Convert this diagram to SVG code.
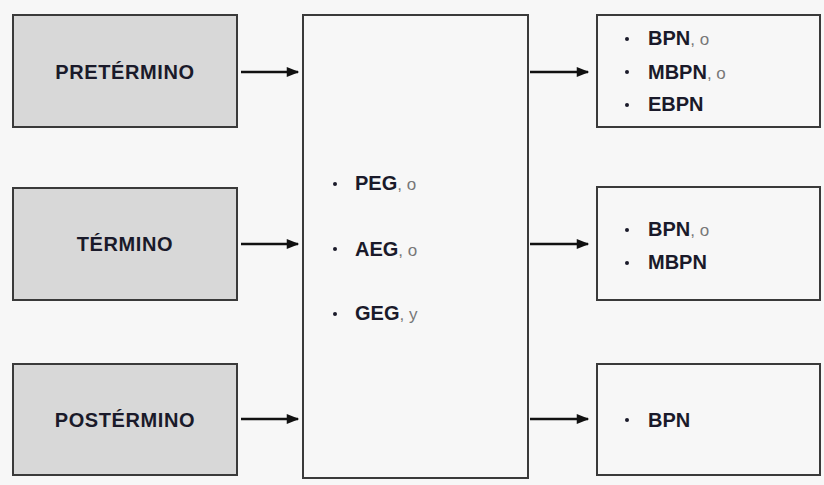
<svg xmlns="http://www.w3.org/2000/svg" width="824" height="485" viewBox="0 0 824 485">
<style>
.bg{fill:#f7f7f7}
.lbox{fill:#d8d8d8;stroke:#3a3a3a;stroke-width:2}
.box{fill:#f7f7f7;stroke:#3a3a3a;stroke-width:2}
.lt{font-family:"Liberation Sans",Arial,sans-serif;font-weight:bold;font-size:20px;fill:#1a1a2a;text-anchor:middle;letter-spacing:0.6px}
.t{font-family:"Liberation Sans",Arial,sans-serif;font-weight:bold;font-size:20px;fill:#1a1a2a}
.s{font-weight:normal;fill:#777;font-size:17px}
.b{fill:#1a1a2a}
.c{stroke:#111;stroke-width:2.5;fill:none;marker-end:url(#ah)}
</style>
<defs>
<marker id="ah" viewBox="0 0 10 10" refX="9" refY="5" markerWidth="5.5" markerHeight="5" orient="auto" markerUnits="strokeWidth">
<path d="M0,1 L10,5 L0,9 Z" fill="#111"/>
</marker>
</defs>
<rect class="bg" x="0" y="0" width="824" height="485"/>
<g id="pretermino"><rect class="lbox" x="13" y="15" width="224" height="112"/><text class="lt" x="125" y="79">PRETÉRMINO</text></g>
<g id="termino"><rect class="lbox" x="13" y="188" width="224" height="112"/><text class="lt" x="125" y="251">TÉRMINO</text></g>
<g id="postermino"><rect class="lbox" x="13" y="364" width="224" height="111"/><text class="lt" x="125" y="427">POSTÉRMINO</text></g>
<g id="center"><rect class="box" x="303" y="15" width="225" height="463"/>
<circle class="b" cx="335" cy="184" r="2"/><text class="t" x="355" y="190">PEG<tspan class="s">, o</tspan></text>
<circle class="b" cx="335" cy="249" r="2"/><text class="t" x="355" y="256">AEG<tspan class="s">, o</tspan></text>
<circle class="b" cx="335" cy="314" r="2"/><text class="t" x="355" y="320">GEG<tspan class="s">, y</tspan></text>
</g>
<g id="out1"><rect class="box" x="597" y="15" width="223" height="112"/>
<circle class="b" cx="627" cy="39" r="2"/><text class="t" x="648" y="45">BPN<tspan class="s">, o</tspan></text>
<circle class="b" cx="627" cy="72" r="2"/><text class="t" x="648" y="79">MBPN<tspan class="s">, o</tspan></text>
<circle class="b" cx="627" cy="105" r="2"/><text class="t" x="648" y="111">EBPN</text>
</g>
<g id="out2"><rect class="box" x="597" y="187" width="223" height="113"/>
<circle class="b" cx="627" cy="230" r="2"/><text class="t" x="648" y="236">BPN<tspan class="s">, o</tspan></text>
<circle class="b" cx="627" cy="263" r="2"/><text class="t" x="648" y="269">MBPN</text>
</g>
<g id="out3"><rect class="box" x="597" y="364" width="223" height="111"/>
<circle class="b" cx="627" cy="420" r="2"/><text class="t" x="648" y="427">BPN</text>
</g>
<g id="connectors">
<line class="c" x1="241" y1="72" x2="298" y2="72"/>
<line class="c" x1="241" y1="244" x2="298" y2="244"/>
<line class="c" x1="241" y1="419" x2="298" y2="419"/>
<line class="c" x1="530" y1="72" x2="588" y2="72"/>
<line class="c" x1="530" y1="244" x2="588" y2="244"/>
<line class="c" x1="530" y1="419" x2="588" y2="419"/>
</g>
</svg>
